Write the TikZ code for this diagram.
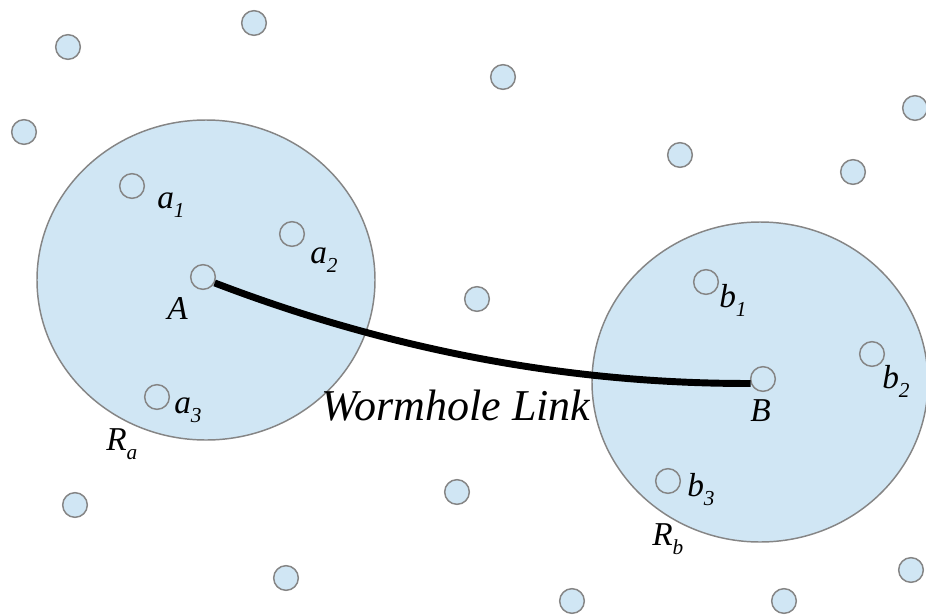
\documentclass[tikz,border=0pt]{standalone}
\usepackage{fontspec}
\setmainfont{Liberation Serif}[ItalicFont={Liberation Serif Italic}]
\newfontfamily\tnr{Liberation Serif}[UprightFont={* Italic}]
\usetikzlibrary{shapes.geometric}
\definecolor{dotfill}{HTML}{D0E6F4}
\definecolor{dotline}{HTML}{858585}
\newcommand{\lbsub}[1]{\raisebox{-0.28em}{\fontsize{16}{16}\selectfont\tnr #1}}
\begin{document}
\begin{tikzpicture}[x=0.75pt,y=-0.75pt,
  dot/.style={circle,draw=dotline,fill=dotfill,line width=1.1pt,minimum size=18.5pt,inner sep=0pt},
  region/.style={ellipse,draw=dotline,fill=dotfill,line width=1.1pt,inner sep=0pt},
  lbl/.style={anchor=base west,inner sep=0pt,font=\fontsize{25}{29}\selectfont\tnr},
  link/.style={line width=5.2pt,black}]
\useasboundingbox (0,0) rectangle (926,615);
% regions
\node[region,minimum width=253.5pt,minimum height=240pt] (Ra) at (206,280) {};
\node[region,minimum width=252pt,minimum height=240pt] (Rb) at (760,382) {};
% free nodes
\node[dot] (n1) at (68,47) {};
\node[dot] (n2) at (254,23) {};
\node[dot] (n3) at (503,77) {};
\node[dot] (n4) at (24,132) {};
\node[dot] (n5) at (915,108) {};
\node[dot] (n6) at (680,155) {};
\node[dot] (n7) at (853,172) {};
\node[dot] (n8) at (477,299) {};
\node[dot] (n9) at (75,505) {};
\node[dot] (n10) at (457,492) {};
\node[dot] (n11) at (286,578) {};
\node[dot] (n12) at (572,601) {};
\node[dot] (n13) at (784,601) {};
\node[dot] (n14) at (911,570) {};
% region members
\node[dot] (a1) at (132,186) {};
\node[dot] (a2) at (292,234) {};
\node[dot] (A) at (203,277) {};
\node[dot] (a3) at (157,397) {};
\node[dot] (b1) at (706,282) {};
\node[dot] (b2) at (872,354) {};
\node[dot] (B) at (763,379) {};
\node[dot] (b3) at (668,481) {};
% wormhole link
\draw[link] (A.-27) .. controls (390,350) and (569,384) .. (B.200);
% labels
\node[lbl] (la1) at (157,208) {a\lbsub{1}};
\node[lbl] (la2) at (310,263) {a\lbsub{2}};
\node[lbl] (lA) at (167,319) {A};
\node[lbl] (la3) at (174,413) {a\lbsub{3}};
\node[lbl] (lRa) at (106,450) {R\lbsub{a}};
\node[lbl] (lb1) at (719,307) {b\lbsub{1}};
\node[lbl] (lb2) at (882,388) {b\lbsub{2}};
\node[lbl] (lB) at (750,421) {B};
\node[lbl] (lb3) at (687,496) {b\lbsub{3}};
\node[lbl] (lRb) at (652,545) {R\lbsub{b}};
\node[anchor=base,inner sep=0pt,font=\fontsize{33}{37}\selectfont\tnr] (wl) at (456,420) {Wormhole Link};
\end{tikzpicture}
\end{document}
